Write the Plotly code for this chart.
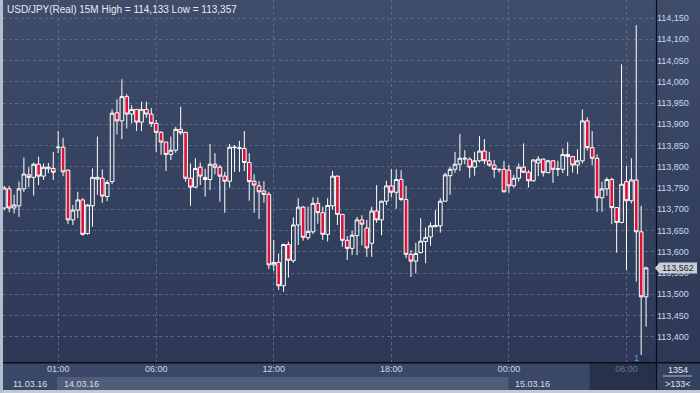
import plotly.graph_objects as go

# ---------------- data ----------------
bar_index = list(range(132))

opens = [113.703,113.748,113.703,113.708,113.748,113.781,113.775,113.806,113.778,113.795,
         113.796,113.845,113.846,113.792,113.675,113.698,113.722,113.643,113.708,113.771,
         113.773,113.730,113.765,113.927,113.908,113.965,113.924,113.935,113.905,113.935,
         113.924,113.902,113.881,113.858,113.829,113.839,113.888,113.881,113.773,113.752,
         113.799,113.775,113.770,113.806,113.799,113.778,113.766,113.845,113.845,113.843,
         113.810,113.766,113.755,113.743,113.735,113.569,113.575,113.520,113.617,113.579,
         113.663,113.705,113.633,113.647,113.714,113.692,113.641,113.708,113.778,113.688,
         113.627,113.608,113.638,113.675,113.656,113.620,113.696,113.675,113.719,113.755,
         113.740,113.770,113.723,113.594,113.578,113.598,113.624,113.635,113.659,113.661,
         113.719,113.779,113.794,113.806,113.818,113.818,113.799,113.814,113.837,113.814,
         113.804,113.793,113.794,113.792,113.755,113.773,113.799,113.787,113.767,113.809,
         113.818,113.786,113.814,113.794,113.794,113.829,113.824,113.804,113.814,113.908,
         113.845,113.820,113.727,113.748,113.770,113.704,113.669,113.765,113.720,113.769,
         113.647,113.494]

highs = [113.755,113.755,113.734,113.765,113.822,113.799,113.810,113.824,113.808,113.809,
         113.835,113.884,113.868,113.793,113.710,113.741,113.726,113.712,113.796,113.871,
         113.794,113.769,113.935,113.959,114.006,113.971,113.945,113.936,113.953,113.953,
         113.938,113.910,113.884,113.859,113.871,113.894,113.941,113.882,113.808,113.820,
         113.810,113.795,113.854,113.832,113.804,113.788,113.854,113.851,113.861,113.884,
         113.832,113.782,113.766,113.766,113.741,113.628,113.596,113.619,113.624,113.681,
         113.726,113.708,113.706,113.728,113.728,113.706,113.726,113.790,113.779,113.689,
         113.637,113.649,113.682,113.686,113.675,113.706,113.757,113.720,113.767,113.794,
         113.794,113.792,113.755,113.604,113.621,113.679,113.657,113.669,113.698,113.726,
         113.786,113.800,113.835,113.877,113.839,113.822,113.835,113.872,113.865,113.835,
         113.816,113.795,113.814,113.804,113.781,113.808,113.855,113.792,113.818,113.825,
         113.819,113.816,113.816,113.814,113.843,113.858,113.825,113.841,113.935,113.916,
         113.884,113.829,113.765,113.775,113.774,113.705,114.041,113.802,113.820,114.133,
         113.708,113.565]

lows = [113.698,113.693,113.690,113.682,113.741,113.752,113.732,113.757,113.769,113.785,
        113.769,113.832,113.778,113.665,113.663,113.679,113.638,113.640,113.659,113.734,
        113.715,113.719,113.759,113.876,113.865,113.890,113.902,113.884,113.884,113.915,
        113.894,113.835,113.828,113.790,113.816,113.833,113.875,113.765,113.708,113.750,
        113.757,113.730,113.745,113.782,113.718,113.692,113.751,113.788,113.788,113.790,
        113.720,113.692,113.677,113.715,113.559,113.555,113.510,113.506,113.539,113.574,
        113.616,113.626,113.628,113.642,113.666,113.628,113.624,113.699,113.663,113.612,
        113.581,113.592,113.592,113.615,113.588,113.588,113.668,113.639,113.710,113.728,
        113.701,113.719,113.585,113.541,113.549,113.596,113.573,113.614,113.658,113.645,
        113.718,113.734,113.786,113.790,113.806,113.774,113.779,113.810,113.806,113.800,
        113.774,113.786,113.740,113.739,113.751,113.765,113.786,113.751,113.765,113.778,
        113.777,113.785,113.762,113.778,113.785,113.778,113.786,113.783,113.808,113.838,
        113.804,113.694,113.694,113.732,113.665,113.598,113.667,113.557,113.714,113.530,
        113.357,113.424]

closes = [113.750,113.703,113.710,113.748,113.783,113.775,113.806,113.778,113.799,113.799,
          113.787,113.846,113.788,113.675,113.698,113.722,113.641,113.710,113.775,113.775,
          113.731,113.763,113.926,113.908,113.965,113.924,113.935,113.905,113.935,113.924,
          113.902,113.881,113.858,113.829,113.839,113.888,113.880,113.773,113.752,113.796,
          113.778,113.770,113.806,113.799,113.778,113.766,113.846,113.846,113.843,113.810,
          113.765,113.757,113.741,113.735,113.569,113.575,113.520,113.617,113.580,113.663,
          113.705,113.634,113.648,113.714,113.692,113.641,113.709,113.778,113.688,113.627,
          113.608,113.639,113.675,113.665,113.609,113.696,113.675,113.719,113.755,113.740,
          113.770,113.723,113.594,113.578,113.596,113.625,113.634,113.661,113.662,113.719,
          113.781,113.794,113.806,113.820,113.820,113.799,113.814,113.837,113.814,113.804,
          113.794,113.794,113.741,113.755,113.773,113.799,113.787,113.767,113.816,113.818,
          113.786,113.814,113.794,113.795,113.829,113.824,113.804,113.814,113.908,113.845,
          113.820,113.727,113.748,113.770,113.704,113.669,113.759,113.720,113.769,113.647,
          113.494,113.562]

time_tick_pos = [11, 31, 55, 79, 103, 127]
time_tick_labels = ["01:00", "06:00", "12:00", "18:00", "00:00", "06:00"]
date_labels = ["11.03.16", "14.03.16", "15.03.16"]
date_label_pos = [5.3, 11.75, 103.8]

price_ticks = [113.40, 113.45, 113.50, 113.55, 113.60, 113.65, 113.70, 113.75,
               113.80, 113.85, 113.90, 113.95, 114.00, 114.05, 114.10, 114.15]
price_tick_labels = ["113,400", "113,450", "113,500", "113,550", "113,600", "113,650",
                     "113,700", "113,750", "113,800", "113,850", "113,900", "113,950",
                     "114,000", "114,050", "114,100", "114,150"]

title_text = "USD/JPY(Real) 15M High = 114,133 Low = 113,357"
last_price = 113.562
last_price_label = "113,562"
bar_count_top = "1354"
bar_count_bottom = ">133<"

# ---------------- geometry ----------------
W, H = 700, 393
ML, MR, MT, MB = 3, 44, 0, 31
PW, PH = W - ML - MR, H - MT - MB
XMIN, XMAX = -0.265, 133.03
YMIN, YMAX = 113.3406, 114.1924


def px(xp):
    return (xp - ML) / PW


def py(yp):
    return (MT + PH - yp) / PH


def ix(i):
    return (i - XMIN) / (XMAX - XMIN)


FONT = "Liberation Sans, Arial, sans-serif"

fig = go.Figure()
fig.add_trace(go.Candlestick(
    x=bar_index, open=opens, high=highs, low=lows, close=closes,
    increasing=dict(line=dict(color="#ffffff", width=1), fillcolor="rgba(0,0,0,0)"),
    decreasing=dict(line=dict(color="#ffffff", width=1), fillcolor="#dc143c"),
    whiskerwidth=0, hoverinfo="skip", showlegend=False,
))

shapes = []
# background gradient (plot + right axis column)
top = (63, 77, 106)
bot = (44, 56, 85)
N = 40
for k in range(N):
    t = (k + 0.5) / N
    c = tuple(int(round(top[j] + (bot[j] - top[j]) * t)) for j in range(3))
    shapes.append(dict(type="rect", xref="paper", yref="paper", layer="below",
                       x0=0, x1=px(W), y0=1 - (k + 1) / N, y1=1 - k / N + 0.001,
                       fillcolor="rgb(%d,%d,%d)" % c, line=dict(width=0)))

# bottom axis rows
row1 = (py(363), py(377))
row2 = (py(377), py(390))
shapes += [
    dict(type="rect", xref="paper", yref="paper", layer="below", x0=px(0), x1=px(W),
         y0=row1[1], y1=row1[0], fillcolor="#3a4766", line=dict(width=0)),
    dict(type="rect", xref="paper", yref="paper", layer="below", x0=px(0), x1=px(W),
         y0=row2[1], y1=row2[0], fillcolor="#3a4766", line=dict(width=0)),
    dict(type="rect", xref="paper", yref="paper", layer="below", x0=ix(10.75), x1=ix(102.9),
         y0=row2[1], y1=row2[0], fillcolor="#505d78", line=dict(width=0)),
    dict(type="rect", xref="paper", yref="paper", layer="below", x0=ix(119.5), x1=px(656),
         y0=row2[1], y1=row1[0], fillcolor="#27314b", line=dict(width=0)),
    dict(type="rect", xref="paper", yref="paper", layer="below", x0=px(657), x1=px(W),
         y0=row2[1], y1=row1[0], fillcolor="#35425f", line=dict(width=0)),
    # bottom & left frame
    dict(type="rect", xref="paper", yref="paper", layer="above", x0=px(0), x1=px(W),
         y0=py(H), y1=py(390), fillcolor="#c3cad5", line=dict(width=0)),
    dict(type="rect", xref="paper", yref="paper", layer="above", x0=px(0), x1=px(3),
         y0=py(H), y1=py(0), fillcolor="#b3bfcf", line=dict(width=0)),
    # black separators
    dict(type="line", xref="paper", yref="paper", layer="above", x0=px(656.5), x1=px(656.5),
         y0=py(390), y1=py(0), line=dict(color="#0a0d14", width=1.2)),
    dict(type="line", xref="paper", yref="paper", layer="above", x0=px(3), x1=px(W),
         y0=py(362.8), y1=py(362.8), line=dict(color="#0a0d14", width=1.5)),
    # line in counter box
    dict(type="line", xref="paper", yref="paper", layer="above", x0=px(663), x1=px(692),
         y0=py(376), y1=py(376), line=dict(color="#aeb8c8", width=1)),
]
# last price marker
lp = (last_price - YMIN) / (YMAX - YMIN)
hh = 5.5 / PH
shapes.append(dict(type="path", xref="paper", yref="paper", layer="above",
                   path="M %f,%f L %f,%f L %f,%f L %f,%f L %f,%f Z" % (
                       px(655), lp, px(659.5), lp + hh, px(697), lp + hh,
                       px(697), lp - hh, px(659.5), lp - hh),
                   fillcolor="#c9cdd4", line=dict(width=0)))
# small triangle near bottom
shapes.append(dict(type="path", xref="paper", yref="paper", layer="above",
                   path="M %f,%f L %f,%f L %f,%f Z" % (px(640.5), py(362), px(645), py(357.5),
                                                    px(649.5), py(362)),
                   fillcolor="#2a3244", line=dict(width=0)))

annotations = [
    dict(text=title_text, xref="paper", yref="paper", x=px(5), y=py(9.5), xanchor="left",
         yanchor="middle", showarrow=False, font=dict(family=FONT, size=10, color="#e6ebf3")),
    dict(text=last_price_label, xref="paper", yref="paper", x=px(678.5), y=lp, xanchor="center",
         yanchor="middle", showarrow=False, font=dict(family=FONT, size=9, color="#1a2233")),
    dict(text=bar_count_top, xref="paper", yref="paper", x=px(678), y=py(370), xanchor="center",
         yanchor="middle", showarrow=False, font=dict(family=FONT, size=9, color="#e3e8f0")),
    dict(text=bar_count_bottom, xref="paper", yref="paper", x=px(678), y=py(383.5), xanchor="center",
         yanchor="middle", showarrow=False, font=dict(family=FONT, size=9, color="#e3e8f0")),
    dict(text="1", xref="paper", yref="paper", x=px(636.5), y=py(358), xanchor="center",
         yanchor="middle", showarrow=False, font=dict(family=FONT, size=9, color="#4f9fe6")),
]
for lab, pos, anchor in zip(date_labels, date_label_pos, ["center", "left", "left"]):
    annotations.append(dict(text=lab, xref="paper", yref="paper", x=ix(pos), y=py(383.5),
                            xanchor=anchor, yanchor="middle", showarrow=False,
                            font=dict(family=FONT, size=9, color="#d8dfea")))

tick_text = [t if i < len(time_tick_labels) - 1 else '<span style="color:#6b778d">%s</span>' % t
             for i, t in enumerate(time_tick_labels)]

fig.update_layout(
    width=W, height=H,
    margin=dict(l=ML, r=MR, t=MT, b=MB, pad=0),
    paper_bgcolor="#34415e", plot_bgcolor="rgba(0,0,0,0)",
    showlegend=False, hovermode=False,
    boxgap=0.25, boxgroupgap=0,
    shapes=shapes, annotations=annotations,
    xaxis=dict(range=[XMIN, XMAX], rangeslider=dict(visible=False), showgrid=True,
               gridcolor="#5b6985", griddash="dot", gridwidth=1, zeroline=False,
               showline=False, tickvals=time_tick_pos, ticktext=tick_text, ticks="",
               tickfont=dict(family=FONT, size=9, color="#c9d7ef"), fixedrange=True),
    yaxis=dict(range=[YMIN, YMAX], side="right", showgrid=True, gridcolor="#5b6985",
               griddash="dot", gridwidth=1, zeroline=False, showline=False,
               tickvals=price_ticks, ticktext=price_tick_labels, ticks="",
               tickfont=dict(family=FONT, size=9, color="#c9d7ef"), fixedrange=True),
)

fig.write_html("out.html", config={"displayModeBar": False, "staticPlot": True})
